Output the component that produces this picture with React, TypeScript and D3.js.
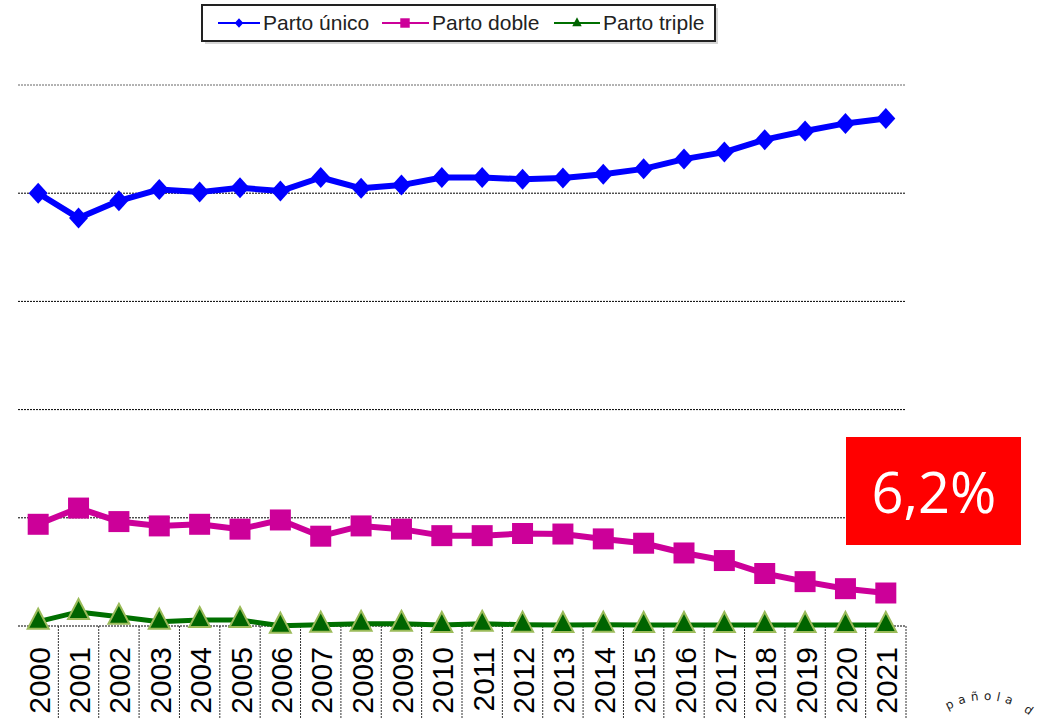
import React from "react";
import * as d3 from "d3";

const years = ["2000","2001","2002","2003","2004","2005","2006","2007","2008","2009","2010","2011","2012","2013","2014","2015","2016","2017","2018","2019","2020","2021"];
const partoUnico = [80.0,75.4,78.6,80.7,80.2,81.0,80.4,82.9,80.9,81.5,82.9,82.9,82.6,82.8,83.5,84.5,86.3,87.6,89.9,91.5,92.9,93.8];
const partoDoble = [18.8,21.8,19.3,18.5,18.8,17.9,19.6,16.6,18.5,17.9,16.7,16.7,17.1,17.0,16.1,15.3,13.5,12.1,9.7,8.2,6.9,6.1];
const partoTriple = [0.8,2.6,1.7,0.8,1.1,1.1,0.05,0.25,0.4,0.4,0.2,0.4,0.25,0.2,0.25,0.2,0.2,0.2,0.2,0.2,0.2,0.2];
const yTicks = [0,20,40,60,80,100];
const seriesNames = ["Parto único","Parto doble","Parto triple"];
const highlight = "6,2%";

const W = 1038, H = 718;

function marker(kind: string, x: number, y: number, s = 1): string {
  if (kind === "diamond") {
    const a = 9.5 * s, b = 10.5 * s;
    return `M${x},${y - b}L${x + a},${y}L${x},${y + b}L${x - a},${y}Z`;
  }
  if (kind === "square") {
    const h = 10.5 * s;
    return `M${x - h},${y - h}H${x + h}V${y + h}H${x - h}Z`;
  }
  const hw = 10.5 * s, up = 13 * s, dn = 7 * s;
  return `M${x},${y - up}L${x + hw},${y + dn}L${x - hw},${y + dn}Z`;
}

export default function App() {
  const x = d3.scaleBand<string>().domain(years).range([18, 906]).paddingInner(0).paddingOuter(0);
  const bw = x.bandwidth();
  const cx = (d: string) => (x(d) as number) + bw / 2;
  const y = d3.scaleLinear().domain([0, 100]).range([626, 85]);

  const line = d3.line<number>().x((_, i) => cx(years[i])).y((v) => y(v));

  const series = [
    { name: seriesNames[0], data: partoUnico, color: "#0000FF", kind: "diamond", width: 6, fill: "#0000FF", stroke: "none" },
    { name: seriesNames[1], data: partoDoble, color: "#CC0099", kind: "square", width: 6, fill: "#CC0099", stroke: "none" },
    { name: seriesNames[2], data: partoTriple, color: "#007000", kind: "triangle", width: 5, fill: "#006400", stroke: "#9BBB59" },
  ];

  const legendItems = [
    { lx1: 218, lx2: 260, mx: 239, tx: 263 },
    { lx1: 382, lx2: 429, mx: 405, tx: 432 },
    { lx1: 554, lx2: 600, mx: 577, tx: 603 },
  ];

  // arc path for the partial logo lettering (circle centre at translate origin)
  const R = 72;
  const arcPath = d3.arc()({ innerRadius: R, outerRadius: R, startAngle: -1.0, endAngle: 1.0 } as any) as string;

  return (
    <svg width={W} height={H} style={{ position: "absolute", left: 0, top: 0, background: "#fff" }}>
      <rect x={0} y={0} width={W} height={H} fill="#fff" />
      {/* gridlines */}
      {yTicks.map((t) => (
        <line key={t} x1={18} x2={906} y1={y(t)} y2={y(t)} stroke={t === 100 ? "#666" : "#000"} strokeWidth={1} strokeDasharray="2,1" />
      ))}
      {/* category separators */}
      {years.slice(1).map((d) => (
        <line key={d} x1={x(d)} x2={x(d)} y1={626} y2={H} stroke="#333" strokeWidth={1} strokeDasharray="2,1" />
      ))}
      <line x1={906} x2={906} y1={626} y2={H} stroke="#333" strokeWidth={1} strokeDasharray="2,1" />
      {/* x labels */}
      {years.map((d) => (
        <text key={d} transform={`translate(${cx(d) + 1},647) rotate(-90)`} textAnchor="end" dominantBaseline="central"
          fontFamily="'Liberation Sans', Arial, sans-serif" fontSize={30} fill="#000">{d}</text>
      ))}
      {/* series */}
      {series.map((s) => (
        <g key={s.name}>
          <path d={line(s.data) as string} fill="none" stroke={s.color} strokeWidth={s.width} strokeLinejoin="round" />
          {s.data.map((v, i) => (
            <path key={i} d={marker(s.kind, cx(years[i]), y(v))} fill={s.fill} stroke={s.stroke} strokeWidth={s.stroke === "none" ? 0 : 2} strokeLinejoin="miter" />
          ))}
        </g>
      ))}
      {/* legend */}
      <rect x={205} y={8} width={513} height={36} fill="#bbb" opacity={0.6} />
      <rect x={202} y={5} width={513} height={36} fill="#fff" stroke="#222" strokeWidth={2} />
      {series.map((s, i) => {
        const L = legendItems[i];
        return (
          <g key={s.name}>
            <line x1={L.lx1} x2={L.lx2} y1={23} y2={23} stroke={s.color} strokeWidth={2} />
            <path d={marker(s.kind, L.mx, 23, 0.45)} fill={s.fill} stroke="none" />
            <text x={L.tx} y={30} fontFamily="'Liberation Sans', Arial, sans-serif" fontSize={21} fill="#222">{s.name}</text>
          </g>
        );
      })}
      {/* highlight box */}
      <rect x={846} y={437} width={175} height={108} fill="#FF0000" />
      <text x={934} y={513} textAnchor="middle" fontFamily="'Open Sans', sans-serif" fontSize={56} fill="#fff">{highlight}</text>
      {/* partial logo lettering */}
      <g transform="translate(985,772)">
        <path id="logoArc" d={arcPath} fill="none" stroke="none" />
        <text fontFamily="'DejaVu Sans', sans-serif" fontSize={12} fill="#222" letterSpacing={5}>
          <textPath href="#logoArc" startOffset={33}>pañola</textPath>
        </text>
        <text fontFamily="'DejaVu Sans', sans-serif" fontSize={12} fill="#222">
          <textPath href="#logoArc" startOffset={112}>d</textPath>
        </text>
      </g>
    </svg>
  );
}
